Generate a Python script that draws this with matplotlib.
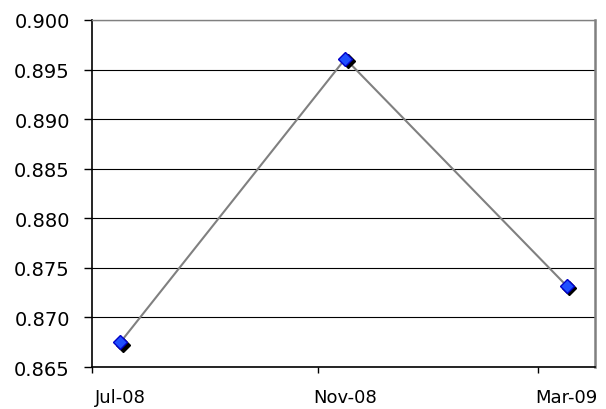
import datetime as dt
import calendar
import matplotlib
matplotlib.use('Agg')
import matplotlib.pyplot as plt
import matplotlib.transforms as mtransforms

# data
months = [(2008, 7), (2008, 11), (2009, 3)]
labels = ['Jul-08', 'Nov-08', 'Mar-09']
values = [0.8675, 0.8961, 0.8732]


def month_center(y, m):
    # Excel puts a month-based point in the middle of its month
    n = calendar.monthrange(y, m)[1]
    return dt.datetime(y, m, 1) + dt.timedelta(days=n / 2.0)


x = [month_center(y, m) for y, m in months]
starts = [dt.datetime(y, m, 1) for y, m in months]

plt.rcParams['font.family'] = 'DejaVu Sans'

fig = plt.figure(figsize=(6.06, 4.10), dpi=100)
ax = fig.add_axes([0.1518, 0.1024, 0.8300, 0.8464])

ax.plot(x, values, color='#808080', lw=1.5, zorder=3)

shadow = mtransforms.offset_copy(ax.transData, fig=fig, x=2.5, y=-2.5, units='dots')
ax.plot(x, values, ls='none', marker='D', ms=7.5, color='black',
        mec='black', transform=shadow, zorder=4)
ax.plot(x, values, ls='none', marker='D', ms=7.5, color='#1f4fff',
        mec='#0000c8', mew=1.0, zorder=5)

ax.set_ylim(0.865, 0.900)
ax.set_yticks([0.865, 0.870, 0.875, 0.880, 0.885, 0.890, 0.895, 0.900])
ax.yaxis.set_major_formatter(matplotlib.ticker.FormatStrFormatter('%.3f'))
ax.set_xlim(dt.datetime(2008, 7, 1), dt.datetime(2009, 4, 1))

ax.set_xticks(starts)
ax.set_xticklabels([''] * len(starts))
ax.set_xticks(x, minor=True)
ax.set_xticklabels(labels, minor=True)

ax.grid(axis='y', color='black', lw=0.8)
ax.set_axisbelow(True)

ax.tick_params(axis='y', direction='out', length=6, width=1, pad=10, labelsize=14)
ax.tick_params(axis='x', which='major', direction='out', length=4.5, width=1)
ax.tick_params(axis='x', which='minor', length=0, pad=15, labelsize=13)

for s in ['left', 'bottom']:
    ax.spines[s].set_color('black')
    ax.spines[s].set_linewidth(1.2)
ax.spines['right'].set_color('#808080')
ax.spines['right'].set_linewidth(1.8)
ax.spines['top'].set_color('#808080')
ax.spines['top'].set_linewidth(1.0)

fig.savefig('out.png', dpi=100)
